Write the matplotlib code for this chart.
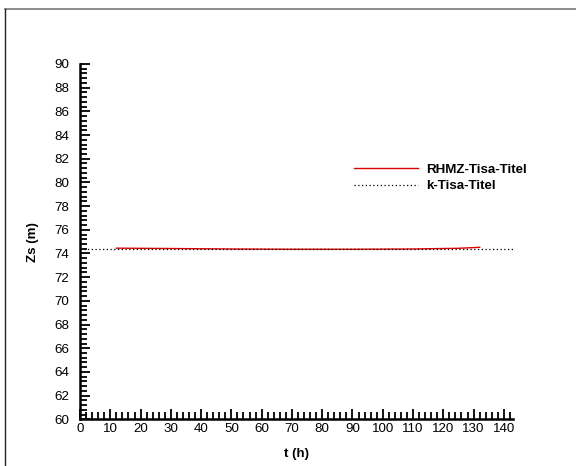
#!/usr/bin/env python3
"""
Water level Zs at the Tisa-Titel gauge: measured (RHMZ) vs computed (k).
"""

import matplotlib.pyplot as plt
from matplotlib.lines import Line2D
from matplotlib.ticker import MultipleLocator

plt.rcParams["font.family"] = ["Liberation Sans", "DejaVu Sans"]

# measured series (RHMZ)
t_rhmz = [12, 30, 50, 70, 90, 110, 125, 132]
zs_rhmz = [74.45, 74.42, 74.38, 74.36, 74.36, 74.38, 74.44, 74.52]

# computed series (k)
t_k = [0, 143]
zs_k = [74.37, 74.37]

fs = 9.6

fig = plt.figure(figsize=(5.76, 4.66), dpi=100)
ax = fig.add_axes([0.1389, 0.1002, 0.7511, 0.7625])

ax.plot(t_rhmz, zs_rhmz, color="#e00000", linewidth=1.0,
        label="RHMZ-Tisa-Titel")
ax.plot(t_k, zs_k, color="black", linewidth=0.9, linestyle=(0, (1, 2)),
        label="k-Tisa-Titel")

ax.set_xlim(0, 142.9)
ax.set_ylim(60, 90)
ax.xaxis.set_major_locator(MultipleLocator(10))
ax.xaxis.set_minor_locator(MultipleLocator(2))
ax.yaxis.set_major_locator(MultipleLocator(2))
ax.yaxis.set_minor_locator(MultipleLocator(0.4))

for side in ("top", "right"):
    ax.spines[side].set_visible(False)
for side in ("left", "bottom"):
    ax.spines[side].set_linewidth(1.8)

ax.tick_params(which="both", direction="in", width=1.3, labelsize=fs)
ax.tick_params(which="major", length=7.5)
ax.tick_params(which="minor", length=5)
ax.tick_params(axis="y", pad=8)
ax.tick_params(axis="x", pad=3)

ax.set_xlabel("t (h)", fontsize=fs, fontweight="bold", labelpad=9)
ax.set_ylabel("Zs (m)", fontsize=fs, fontweight="bold", labelpad=11)

ax.legend(loc="upper left", bbox_to_anchor=(0.633, 0.719), frameon=False,
          borderpad=0, borderaxespad=0, handlelength=4.8,
          handletextpad=0.65, labelspacing=0.3,
          prop={"size": fs, "weight": "bold"})

# partial frame round the figure (top and left edges only)
fig.add_artist(Line2D([5 / 576, 1], [1 - 9 / 466, 1 - 9 / 466],
                      transform=fig.transFigure, color="#777777", linewidth=1.2))
fig.add_artist(Line2D([5 / 576, 5 / 576], [0, 1 - 9 / 466],
                      transform=fig.transFigure, color="#222222", linewidth=1.0))

fig.savefig("out.png", dpi=100)
